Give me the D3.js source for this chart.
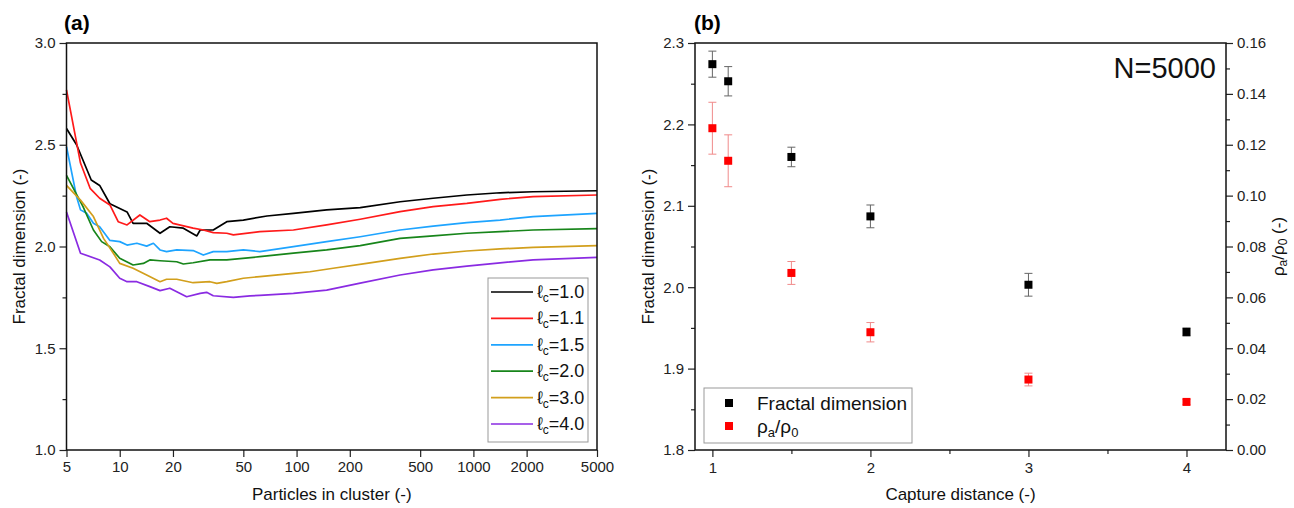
<!DOCTYPE html>
<html>
<head>
<meta charset="utf-8">
<script src="https://cdn.jsdelivr.net/npm/d3@7"></script>
<style>
  body { margin: 0; background: #fff; }
  svg { font-family: "Liberation Sans", Arial, sans-serif; }
  .tick text { font-size: 15px; fill: #222; }
  .tick line { stroke: #222; stroke-width: 1.2; }
</style>
</head>
<body>
<div id="chart-area"></div>
<script>
// ---- panel (a) data: particles in cluster vs fractal dimension ----
const LC_LABELS = ["1.0", "1.1", "1.5", "2.0", "3.0", "4.0"]
const LC_COLORS = ["#000000", "#ff1a1a", "#1ea4ff", "#17851a", "#d29f1c", "#8a2be2"]

const lc10 = [[5,2.58],[5.7,2.50],[6.9,2.327],[7.7,2.30],[8.8,2.21],[11,2.17],[11.9,2.114],[14.2,2.114],
  [16.9,2.065],[19.2,2.097],[22.9,2.09],[27.3,2.052],[28.5,2.081],[33.8,2.081],[40.3,2.122],[50,2.13],
  [68,2.15],[96,2.163],[148,2.18],[229,2.191],[385,2.22],[592,2.237],[918,2.253],[1416,2.264],[2176,2.269],[5000,2.274]]
const lc11 = [[5,2.77],[6,2.41],[6.8,2.286],[7.7,2.237],[8.8,2.204],[9.8,2.122],[11,2.106],[13,2.155],
  [14.8,2.122],[16.9,2.13],[18.4,2.139],[20,2.114],[26,2.09],[29.7,2.081],[33.8,2.068],[40.3,2.065],
  [43.9,2.057],[62,2.073],[96,2.081],[148,2.106],[229,2.134],[385,2.171],[592,2.196],[918,2.212],
  [1416,2.232],[2176,2.245],[5000,2.253]]
const lc15 = [[5,2.49],[5.7,2.245],[6,2.18],[6.5,2.163],[7.1,2.114],[7.7,2.097],[8.8,2.03],[10,2.024],
  [11,2.007],[12.5,2.016],[14.2,2.002],[15.5,2.016],[16.9,1.983],[18.4,1.975],[21,1.983],[26,1.98],
  [29.7,1.958],[33.8,1.975],[40.3,1.975],[50,1.983],[62,1.975],[96,1.999],[148,2.024],[229,2.048],
  [385,2.081],[592,2.10],[918,2.117],[1416,2.13],[2176,2.147],[5000,2.163]]
const lc20 = [[5,2.35],[6.2,2.196],[7.1,2.081],[7.9,2.024],[8.8,1.999],[10,1.942],[11.9,1.909],
  [13.6,1.917],[14.8,1.934],[16.9,1.93],[21,1.925],[22.9,1.914],[26,1.92],[32.4,1.934],[40.3,1.934],
  [62,1.95],[96,1.967],[148,1.983],[229,2.004],[385,2.04],[592,2.052],[918,2.065],[1416,2.073],
  [2176,2.081],[5000,2.088]]
const lc30 = [[5,2.30],[6,2.228],[7.1,2.147],[8.1,2.04],[9.2,1.967],[10,1.917],[11.9,1.893],[14.2,1.86],
  [16.9,1.827],[18.4,1.839],[21,1.839],[26,1.822],[32.4,1.827],[35.4,1.819],[40.3,1.827],[50,1.844],
  [62,1.852],[96,1.868],[119,1.876],[161,1.893],[249,1.917],[385,1.942],[592,1.963],[918,1.978],
  [1416,1.988],[2176,1.996],[5000,2.004]]
const lc40 = [[5,2.17],[6,1.967],[7.7,1.934],[8.8,1.90],[10,1.844],[11,1.827],[12.5,1.827],[14.8,1.803],
  [16.9,1.783],[19.2,1.795],[23.9,1.753],[28.5,1.77],[31,1.775],[33.8,1.758],[43.9,1.75],[54.6,1.757],
  [62,1.76],[96,1.77],[148,1.786],[229,1.82],[385,1.86],[592,1.885],[918,1.904],[1416,1.92],
  [2176,1.934],[5000,1.947]]
const LC_SERIES = [lc10, lc11, lc15, lc20, lc30, lc40]

const X_TICKS_A = [5, 10, 20, 50, 100, 200, 500, 1000, 2000, 5000]
const Y_TICKS_A = [1.0, 1.5, 2.0, 2.5, 3.0]

// ---- panel (b) data: capture distance ----
const captureDist = [1, 1.1, 1.5, 2, 3, 4]
const fractalDim = [2.274, 2.253, 2.160, 2.087, 2.003, 1.945]
const fractalErr = [0.016, 0.018, 0.012, 0.014, 0.014, 0.005]
const densityRatio = [0.1265, 0.1137, 0.0696, 0.0463, 0.0277, 0.0189]
const densityErr = [0.0102, 0.0102, 0.0045, 0.0038, 0.0025, 0.001]

const X_TICKS_B = [1, 2, 3, 4]
const Y_TICKS_B = [1.8, 1.9, 2.0, 2.1, 2.2, 2.3]
const Y2_TICKS_B = [0, 0.02, 0.04, 0.06, 0.08, 0.10, 0.12, 0.14, 0.16]

const W = 1294, H = 508
const svg = d3.select("#chart-area").append("svg")
  .attr("width", W)
  .attr("height", H)

const TOP = 43, BOTTOM = 450
const A = { LEFT: 66.5, RIGHT: 597 }
const B = { LEFT: 695, RIGHT: 1226 }

// ================= panel (a) =================
const xA = d3.scaleLog().domain([5, 5000]).range([A.LEFT, A.RIGHT])
const yA = d3.scaleLinear().domain([1, 3]).range([BOTTOM, TOP])

const gA = svg.append("g")

// minor ticks
gA.append("g")
  .attr("transform", `translate(${A.LEFT},0)`)
  .call(d3.axisLeft(yA).tickValues([1.25, 1.75, 2.25, 2.75]).tickSize(4).tickFormat(""))
  .call(g => g.select(".domain").remove())

gA.append("g")
  .attr("transform", `translate(0,${BOTTOM})`)
  .call(d3.axisBottom(xA).tickValues(X_TICKS_A).tickSize(7).tickPadding(4).tickFormat(d3.format("d")))
  .call(g => g.select(".domain").remove())

gA.append("g")
  .attr("transform", `translate(${A.LEFT},0)`)
  .call(d3.axisLeft(yA).tickValues(Y_TICKS_A).tickSize(7).tickPadding(4).tickFormat(d3.format(".1f")))
  .call(g => g.select(".domain").remove())

const line = d3.line().x(d => xA(d[0])).y(d => yA(d[1]))

gA.selectAll(".lc-line")
  .data(LC_SERIES)
  .enter().append("path")
    .attr("class", "lc-line")
    .attr("fill", "none")
    .attr("stroke", (d, i) => LC_COLORS[i])
    .attr("stroke-width", 1.7)
    .attr("stroke-linejoin", "round")
    .attr("d", line)

gA.append("rect")
  .attr("x", A.LEFT).attr("y", TOP)
  .attr("width", A.RIGHT - A.LEFT).attr("height", BOTTOM - TOP)
  .attr("fill", "none").attr("stroke", "#111").attr("stroke-width", 1.5)

// legend (a)
const legA = gA.append("g").attr("transform", "translate(488,278)")
legA.append("rect")
  .attr("width", 100).attr("height", 164)
  .attr("fill", "#fff").attr("stroke", "#999").attr("stroke-width", 1)
LC_LABELS.forEach((lab, i) => {
  const yy = 14 + i * 26.4
  legA.append("line")
    .attr("x1", 3).attr("x2", 45).attr("y1", yy).attr("y2", yy)
    .attr("stroke", LC_COLORS[i]).attr("stroke-width", 1.7)
  const t = legA.append("text")
    .attr("x", 49).attr("y", yy + 6)
    .attr("font-size", "18px").attr("fill", "#111")
  t.append("tspan").text("\u2113")
  t.append("tspan").attr("dy", 4).attr("font-size", "12px").text("c")
  t.append("tspan").attr("dy", -4).text("=" + lab)
})

// labels (a)
gA.append("text")
  .attr("x", 64).attr("y", 30)
  .attr("font-size", "21px").attr("font-weight", "bold")
  .text("(a)")

gA.append("text")
  .attr("x", (A.LEFT + A.RIGHT) / 2).attr("y", 500)
  .attr("text-anchor", "middle").attr("font-size", "17px").attr("fill", "#111")
  .text("Particles in cluster (-)")

gA.append("text")
  .attr("transform", `translate(25,${(TOP + BOTTOM) / 2}) rotate(-90)`)
  .attr("text-anchor", "middle").attr("font-size", "17px").attr("fill", "#111")
  .text("Fractal dimension (-)")

// ================= panel (b) =================
const xB = d3.scaleLinear().domain([0.89, 4.25]).range([B.LEFT, B.RIGHT])
const yB = d3.scaleLinear().domain([1.8, 2.3]).range([BOTTOM, TOP])
const y2B = d3.scaleLinear().domain([0, 0.16]).range([BOTTOM, TOP])

const gB = svg.append("g")

gB.append("g")
  .attr("transform", `translate(0,${BOTTOM})`)
  .call(d3.axisBottom(xB).tickValues([1.5, 2.5, 3.5]).tickSize(4).tickFormat(""))
  .call(g => g.select(".domain").remove())
gB.append("g")
  .attr("transform", `translate(0,${BOTTOM})`)
  .call(d3.axisBottom(xB).tickValues(X_TICKS_B).tickSize(7).tickPadding(5).tickFormat(d3.format("d")))
  .call(g => g.select(".domain").remove())

gB.append("g")
  .attr("transform", `translate(${B.LEFT},0)`)
  .call(d3.axisLeft(yB).tickValues([1.85, 1.95, 2.05, 2.15, 2.25]).tickSize(4).tickFormat(""))
  .call(g => g.select(".domain").remove())
gB.append("g")
  .attr("transform", `translate(${B.LEFT},0)`)
  .call(d3.axisLeft(yB).tickValues(Y_TICKS_B).tickSize(7).tickPadding(4).tickFormat(d3.format(".1f")))
  .call(g => g.select(".domain").remove())

gB.append("g")
  .attr("transform", `translate(${B.RIGHT},0)`)
  .call(d3.axisRight(y2B).tickValues([0.01, 0.03, 0.05, 0.07, 0.09, 0.11, 0.13, 0.15]).tickSize(4).tickFormat(""))
  .call(g => g.select(".domain").remove())
gB.append("g")
  .attr("transform", `translate(${B.RIGHT},0)`)
  .call(d3.axisRight(y2B).tickValues(Y2_TICKS_B).tickSize(7).tickPadding(4).tickFormat(d3.format(".2f")))
  .call(g => g.select(".domain").remove())

gB.append("rect")
  .attr("x", B.LEFT).attr("y", TOP)
  .attr("width", B.RIGHT - B.LEFT).attr("height", BOTTOM - TOP)
  .attr("fill", "none").attr("stroke", "#111").attr("stroke-width", 1.5)

// error bars + square markers
function drawSeries(vals, errs, yScale, barColor, fill) {
  const data = captureDist.map((c, i) => ({ x: c, y: vals[i], e: errs[i] }))
  const eg = gB.append("g").attr("stroke", barColor).attr("stroke-width", 1)
  eg.selectAll(".stem").data(data).enter().append("line")
    .attr("x1", d => xB(d.x)).attr("x2", d => xB(d.x))
    .attr("y1", d => yScale(d.y - d.e)).attr("y2", d => yScale(d.y + d.e))
  eg.selectAll(".capTop").data(data).enter().append("line")
    .attr("x1", d => xB(d.x) - 4).attr("x2", d => xB(d.x) + 4)
    .attr("y1", d => yScale(d.y + d.e)).attr("y2", d => yScale(d.y + d.e))
  eg.selectAll(".capBot").data(data).enter().append("line")
    .attr("x1", d => xB(d.x) - 4).attr("x2", d => xB(d.x) + 4)
    .attr("y1", d => yScale(d.y - d.e)).attr("y2", d => yScale(d.y - d.e))
  gB.append("g").selectAll("rect").data(data).enter().append("rect")
    .attr("x", d => xB(d.x) - 4).attr("y", d => yScale(d.y) - 4)
    .attr("width", 8).attr("height", 8)
    .attr("fill", fill)
}
drawSeries(fractalDim, fractalErr, yB, "#666", "#000")
drawSeries(densityRatio, densityErr, y2B, "#f08a8a", "#ff0000")

// legend (b)
const legB = gB.append("g").attr("transform", "translate(704,388)")
legB.append("rect")
  .attr("width", 208).attr("height", 55)
  .attr("fill", "#fff").attr("stroke", "#999").attr("stroke-width", 1)
legB.append("rect").attr("x", 21).attr("y", 11).attr("width", 8).attr("height", 8).attr("fill", "#000")
legB.append("rect").attr("x", 21).attr("y", 34).attr("width", 8).attr("height", 8).attr("fill", "#ff0000")
legB.append("text").attr("x", 53).attr("y", 22).attr("font-size", "19px").attr("fill", "#111")
  .text("Fractal dimension")
const rt = legB.append("text").attr("x", 53).attr("y", 45).attr("font-size", "19px").attr("fill", "#111")
rt.append("tspan").text("\u03c1")
rt.append("tspan").attr("dy", 4).attr("font-size", "13px").text("a")
rt.append("tspan").attr("dy", -4).text("/\u03c1")
rt.append("tspan").attr("dy", 4).attr("font-size", "13px").text("0")

// labels (b)
gB.append("text")
  .attr("x", 694).attr("y", 30)
  .attr("font-size", "21px").attr("font-weight", "bold")
  .text("(b)")

gB.append("text")
  .attr("x", 1216).attr("y", 78)
  .attr("text-anchor", "end").attr("font-size", "29px").attr("fill", "#111")
  .text("N=5000")

gB.append("text")
  .attr("x", (B.LEFT + B.RIGHT) / 2).attr("y", 500)
  .attr("text-anchor", "middle").attr("font-size", "17px").attr("fill", "#111")
  .text("Capture distance (-)")

gB.append("text")
  .attr("transform", `translate(654,${(TOP + BOTTOM) / 2}) rotate(-90)`)
  .attr("text-anchor", "middle").attr("font-size", "17px").attr("fill", "#111")
  .text("Fractal dimension (-)")

const r2 = gB.append("text")
  .attr("transform", `translate(1284,${(TOP + BOTTOM) / 2}) rotate(-90)`)
  .attr("text-anchor", "middle").attr("font-size", "17px").attr("fill", "#111")
r2.append("tspan").text("\u03c1")
r2.append("tspan").attr("dy", 3).attr("font-size", "12px").text("a")
r2.append("tspan").attr("dy", -3).text("/\u03c1")
r2.append("tspan").attr("dy", 3).attr("font-size", "12px").text("0")
r2.append("tspan").attr("dy", -3).text(" (-)")
</script>
</body>
</html>
